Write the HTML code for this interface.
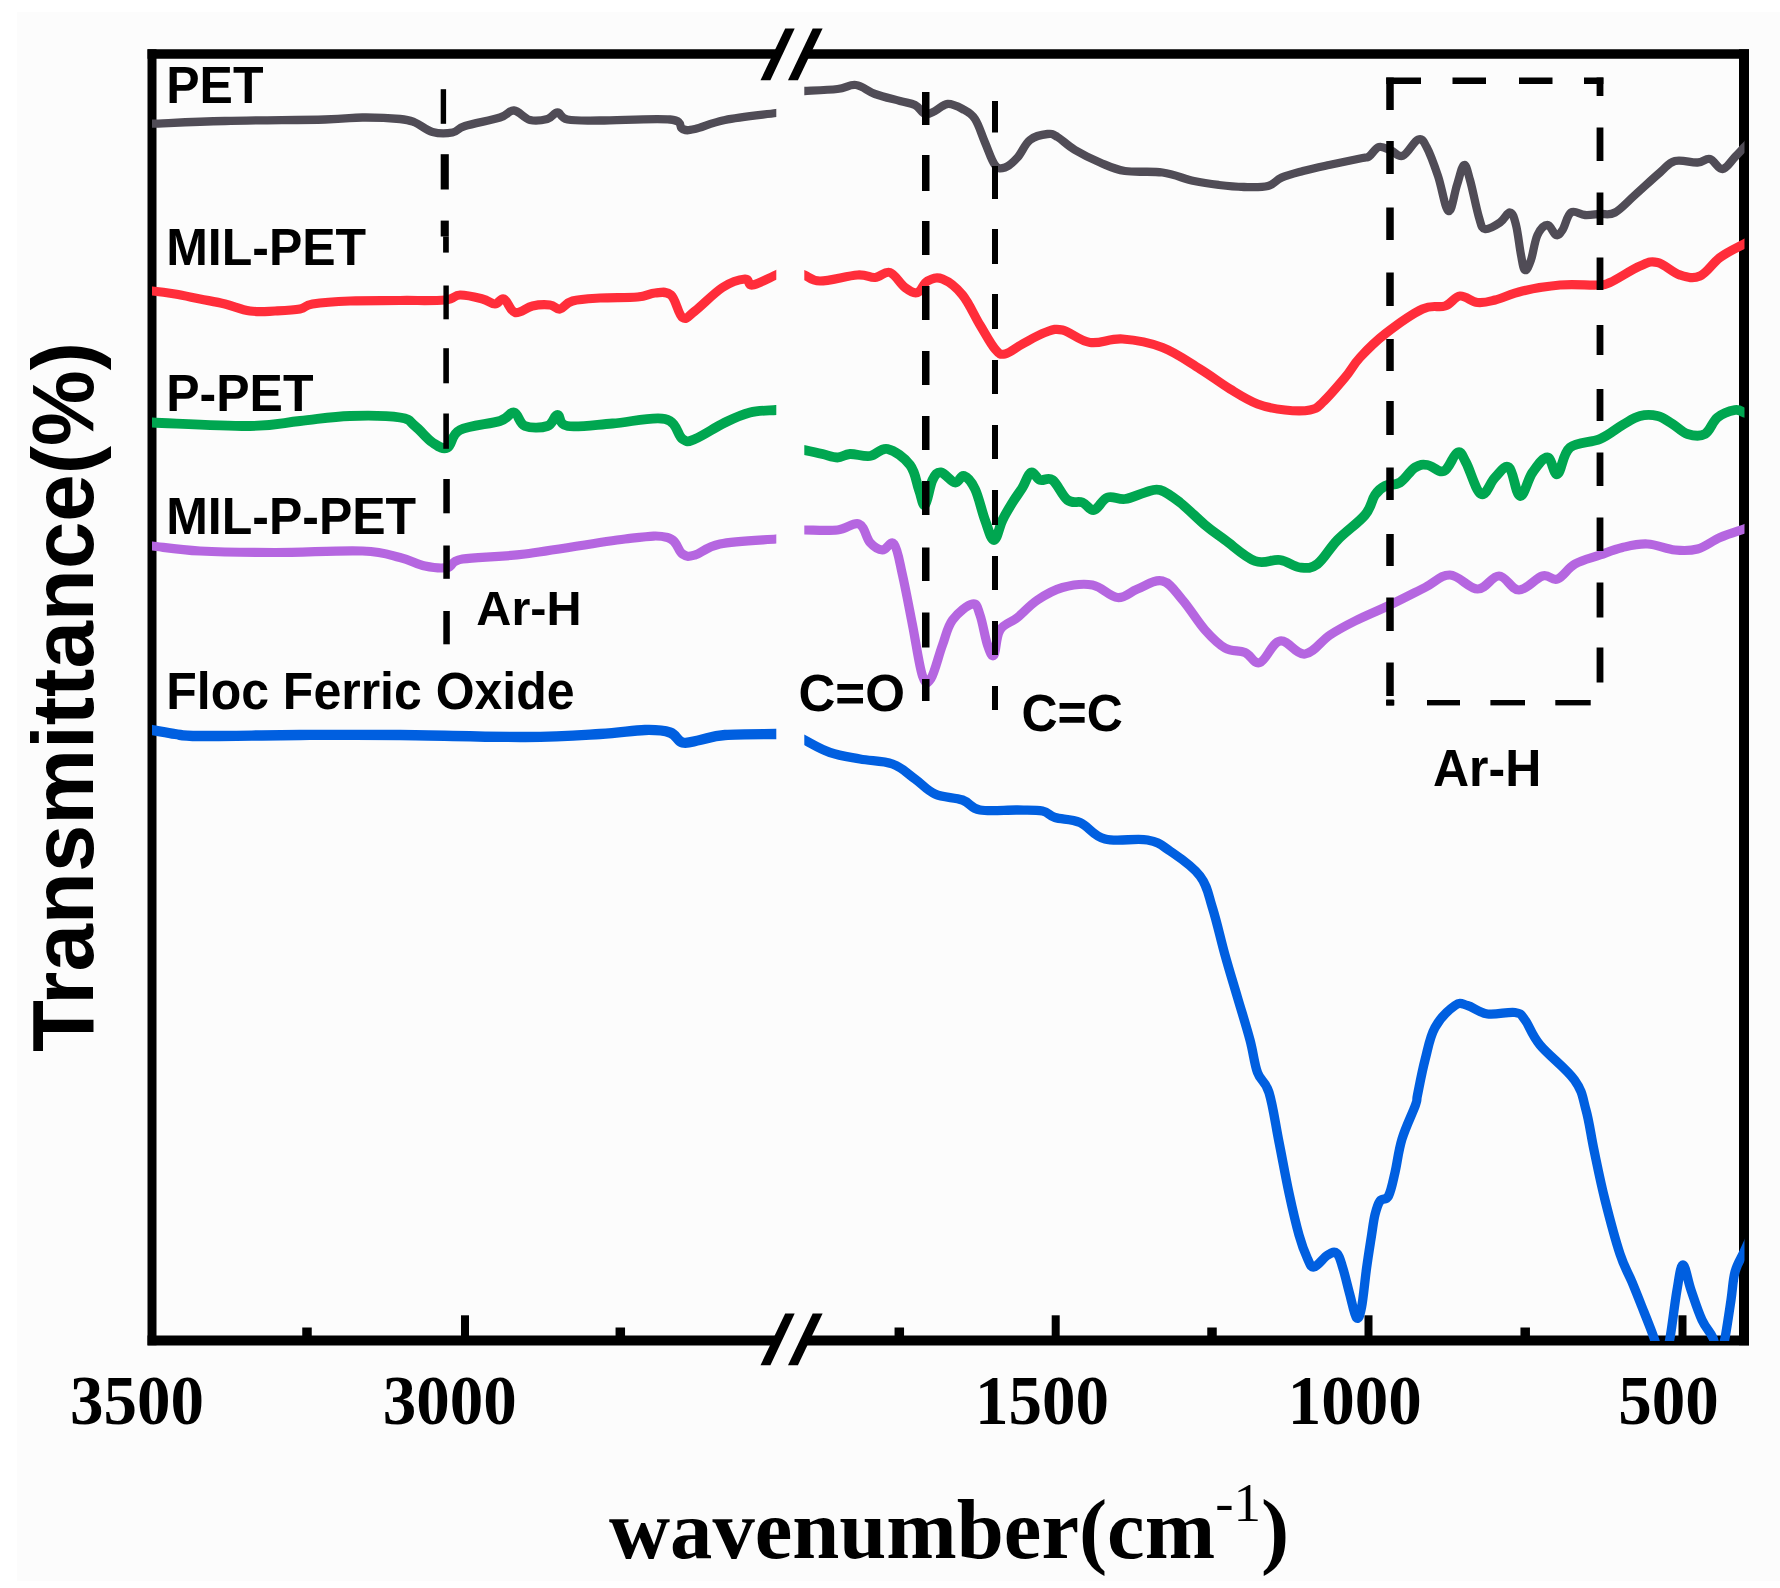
<!DOCTYPE html>
<html><head><meta charset="utf-8"><title>FTIR spectra</title>
<style>
html,body{margin:0;padding:0;background:#fff;}
svg{display:block}
.sb{font-family:"Liberation Sans",Arial,sans-serif;font-weight:bold;fill:#000}
.tb{font-family:"Liberation Serif","Times New Roman",serif;font-weight:bold;fill:#000}
</style></head><body>
<svg width="1780" height="1588" viewBox="0 0 1780 1588">
<rect x="0" y="0" width="1780" height="1588" fill="#fff"/>
<rect x="17" y="12" width="1763" height="1569" fill="#fcfcfc"/>
<defs><clipPath id="cp1"><rect x="152" y="54" width="624.3" height="1287"/></clipPath><clipPath id="cp2"><rect x="804.3" y="54" width="940.2" height="1287"/></clipPath></defs>

<g stroke="#000" fill="none" stroke-linecap="butt">
<line x1="152" y1="49.2" x2="152" y2="1345.3" stroke-width="9"/>
<line x1="1744" y1="49.2" x2="1744" y2="1345.3" stroke-width="10"/>
<line x1="147.5" y1="54" x2="777.5" y2="54" stroke-width="9.6"/>
<line x1="805" y1="54" x2="1749" y2="54" stroke-width="9.6"/>
<line x1="147.5" y1="1340.5" x2="777.3" y2="1340.5" stroke-width="10.2"/>
<line x1="805" y1="1340.5" x2="1749" y2="1340.5" stroke-width="10.2"/>
<polygon fill="#000" stroke="none" points="785.2,28.6 794.7,28.6 770.4,80.2 760.5,80.2"/>
<polygon fill="#000" stroke="none" points="812.7,28.6 822.6,28.6 797.9,80.2 788,80.2"/>
<polygon fill="#000" stroke="none" points="785.2,1313.6 794.7,1313.6 770.4,1365.2 760.5,1365.2"/>
<polygon fill="#000" stroke="none" points="812.7,1313.6 822.6,1313.6 797.9,1365.2 788,1365.2"/>
<line x1="465" y1="1315.3" x2="465" y2="1337" stroke-width="8"/>
<line x1="1055.7" y1="1315.3" x2="1055.7" y2="1337" stroke-width="8"/>
<line x1="1368.5" y1="1315.3" x2="1368.5" y2="1337" stroke-width="8"/>
<line x1="1682.5" y1="1315.3" x2="1682.5" y2="1337" stroke-width="8"/>
<line x1="307" y1="1327.5" x2="307" y2="1337" stroke-width="9.5"/>
<line x1="620.3" y1="1327.5" x2="620.3" y2="1337" stroke-width="9.5"/>
<line x1="899.3" y1="1327.5" x2="899.3" y2="1337" stroke-width="9.5"/>
<line x1="1212" y1="1327.5" x2="1212" y2="1337" stroke-width="9.5"/>
<line x1="1525.2" y1="1327.5" x2="1525.2" y2="1337" stroke-width="9.5"/>
</g>
<g fill="none" stroke-linejoin="round" stroke-linecap="butt">
<path d="M146.0,123.7C147.1,123.7 137.8,124.2 152.0,123.7C166.2,123.2 193.9,121.8 225.0,121.0C256.1,120.2 300.2,120.1 325.0,119.5C349.8,118.9 349.0,117.6 362.5,117.5C376.0,117.4 390.6,118.1 400.0,119.0C409.4,119.9 409.1,120.2 415.0,122.5C420.9,124.8 425.8,130.2 432.5,132.0C439.2,133.8 446.6,133.6 452.5,132.5C458.4,131.4 456.4,128.7 465.0,126.0C473.6,123.3 491.2,120.3 500.0,117.5C508.8,114.7 508.6,110.0 514.0,110.5C519.4,111.0 524.0,118.5 530.0,120.0C536.0,121.5 542.5,120.3 547.5,119.0C552.5,117.7 553.9,112.4 557.5,112.5C561.1,112.6 559.9,118.1 567.5,119.5C575.1,120.9 581.5,120.5 600.0,120.5C618.5,120.5 655.1,118.0 670.0,119.5C684.9,121.0 678.0,127.3 682.5,129.0C687.0,130.7 687.4,130.6 695.0,129.0C702.6,127.4 710.4,122.9 725.0,120.0C739.6,117.1 765.4,114.5 776.0,113.0C786.6,111.5 782.6,112.1 784.0,111.9" stroke="#504c56" stroke-width="8.3" clip-path="url(#cp1)"/>
<path d="M796.5,91.5C797.9,91.4 797.1,91.4 804.5,91.0C811.9,90.6 828.2,90.1 837.5,89.0C846.8,87.9 849.2,84.1 856.0,85.0C862.8,85.9 867.1,91.1 875.0,94.0C882.9,96.9 892.8,99.0 900.0,101.0C907.2,103.0 910.5,102.7 915.0,105.0C919.5,107.3 921.4,112.9 925.0,114.0C928.6,115.1 931.0,112.8 935.0,111.0C939.0,109.2 942.5,104.4 947.5,104.0C952.5,103.6 957.5,106.3 962.5,109.0C967.5,111.7 971.0,113.0 975.0,119.0C979.0,125.0 981.4,134.2 985.0,142.5C988.6,150.8 991.4,160.5 995.0,165.0C998.6,169.5 1001.0,168.8 1005.0,167.5C1009.0,166.2 1013.0,162.4 1017.5,157.5C1022.0,152.6 1024.6,144.2 1030.0,140.0C1035.4,135.8 1042.5,134.5 1047.5,134.0C1052.5,133.5 1052.5,134.1 1057.5,137.0C1062.5,139.9 1067.3,145.4 1075.0,150.0C1082.7,154.6 1091.0,158.7 1100.0,162.5C1109.0,166.3 1113.8,169.2 1125.0,171.0C1136.2,172.8 1150.1,170.7 1162.5,172.5C1174.9,174.3 1183.8,178.8 1194.0,181.0C1204.2,183.2 1210.0,183.9 1219.0,185.0C1228.0,186.1 1235.2,186.8 1244.0,187.0C1252.8,187.2 1261.2,187.7 1268.0,186.0C1274.8,184.3 1275.2,180.3 1281.5,177.6C1287.8,174.9 1294.5,173.3 1303.0,171.0C1311.5,168.7 1318.3,167.3 1329.0,165.0C1339.7,162.7 1355.3,159.5 1362.5,158.0C1369.7,156.5 1366.0,158.5 1369.0,156.5C1372.0,154.5 1375.0,148.1 1379.0,147.0C1383.0,145.9 1386.7,148.9 1391.0,150.5C1395.3,152.1 1398.1,157.7 1403.0,155.7C1407.9,153.7 1413.8,141.2 1418.0,139.6C1422.2,138.0 1423.0,140.4 1426.6,147.0C1430.2,153.6 1434.1,164.5 1438.0,176.0C1441.9,187.5 1445.1,209.4 1448.5,211.0C1451.9,212.6 1454.2,193.3 1457.0,185.0C1459.8,176.7 1461.7,165.9 1464.0,165.0C1466.3,164.1 1467.3,170.6 1470.0,180.0C1472.7,189.4 1476.3,208.7 1479.0,217.5C1481.7,226.3 1481.2,228.1 1485.0,229.0C1488.8,229.9 1495.5,225.5 1500.0,222.5C1504.5,219.5 1507.1,212.1 1510.0,212.5C1512.9,212.9 1514.0,217.3 1516.0,225.0C1518.0,232.7 1519.4,246.9 1521.0,255.0C1522.6,263.1 1523.2,269.1 1525.0,270.0C1526.8,270.9 1528.8,266.3 1531.0,260.0C1533.2,253.7 1534.5,241.3 1537.5,235.0C1540.5,228.7 1544.2,225.0 1547.5,225.0C1550.8,225.0 1553.3,234.1 1556.0,235.0C1558.7,235.9 1559.8,234.1 1562.5,230.0C1565.2,225.9 1567.0,215.2 1571.0,212.5C1575.0,209.8 1579.8,214.7 1585.0,215.0C1590.2,215.3 1594.6,214.4 1600.0,214.0C1605.4,213.6 1608.7,215.9 1615.0,212.5C1621.3,209.1 1626.9,202.2 1635.0,195.0C1643.1,187.8 1652.8,178.6 1660.0,172.5C1667.2,166.4 1668.2,162.8 1675.0,161.0C1681.8,159.2 1691.2,162.9 1697.5,162.5C1703.8,162.1 1705.5,157.8 1710.0,159.0C1714.5,160.2 1718.0,169.4 1722.5,169.0C1727.0,168.6 1731.1,160.9 1735.0,157.0C1738.9,153.1 1741.3,150.3 1744.0,147.5C1746.7,144.7 1748.9,142.3 1750.0,141.2" stroke="#504c56" stroke-width="8.3" clip-path="url(#cp2)"/>
<path d="M146.0,291.0C147.1,291.0 146.8,290.5 152.0,291.0C157.2,291.5 166.4,292.6 175.0,294.0C183.6,295.4 191.0,297.2 200.0,299.0C209.0,300.8 216.0,301.8 225.0,304.0C234.0,306.2 241.0,309.7 250.0,311.0C259.0,312.3 266.0,311.4 275.0,311.0C284.0,310.6 293.2,310.3 300.0,309.0C306.8,307.7 303.5,305.4 312.5,304.0C321.5,302.6 334.2,301.6 350.0,301.0C365.8,300.4 382.9,300.7 400.0,300.5C417.1,300.3 434.2,301.0 445.0,300.0C455.8,299.0 453.2,295.2 460.0,295.0C466.8,294.8 476.2,297.4 482.5,299.0C488.8,300.6 491.1,304.0 495.0,304.0C498.9,304.0 500.4,297.5 504.0,299.0C507.6,300.5 509.9,311.2 515.0,312.5C520.1,313.8 526.2,307.4 532.5,306.0C538.8,304.6 545.0,304.5 550.0,305.0C555.0,305.5 556.0,309.7 560.0,309.0C564.0,308.3 565.3,303.0 572.5,301.0C579.7,299.0 588.3,298.7 600.0,298.0C611.7,297.3 627.6,297.9 637.5,297.0C647.4,296.1 649.0,293.4 655.0,293.0C661.0,292.6 666.0,290.6 671.0,295.0C676.0,299.4 678.2,314.6 682.5,317.5C686.8,320.4 687.8,316.4 695.0,311.0C702.2,305.6 713.5,293.3 722.5,287.5C731.5,281.7 739.6,279.4 745.0,279.0C750.4,278.6 746.9,285.7 752.5,285.0C758.1,284.3 770.3,277.4 776.0,275.0C781.7,272.6 782.6,272.2 784.0,271.6" stroke="#ff2d3a" stroke-width="9.2" clip-path="url(#cp1)"/>
<path d="M796.5,271.9C797.9,272.5 800.3,273.4 804.5,275.0C808.7,276.6 810.5,281.0 820.0,281.0C829.5,281.0 847.6,275.6 857.5,275.0C867.4,274.4 869.1,277.9 875.0,277.5C880.9,277.1 884.6,270.7 890.0,272.5C895.4,274.3 900.0,283.9 905.0,287.5C910.0,291.1 913.5,293.7 917.5,292.5C921.5,291.3 923.0,283.4 927.5,281.0C932.0,278.6 936.2,276.5 942.5,279.0C948.8,281.5 955.8,286.7 962.5,295.0C969.2,303.3 974.1,315.3 980.0,325.0C985.9,334.7 990.5,343.8 995.0,349.0C999.5,354.2 1000.0,354.9 1005.0,354.0C1010.0,353.1 1015.3,347.9 1022.5,344.0C1029.7,340.1 1037.8,335.0 1045.0,332.5C1052.2,330.0 1054.4,328.2 1062.5,330.0C1070.6,331.8 1079.2,340.9 1090.0,342.5C1100.8,344.1 1109.5,338.1 1122.5,339.0C1135.5,339.9 1148.5,342.1 1162.5,347.5C1176.5,352.9 1187.8,361.5 1200.0,369.0C1212.2,376.5 1219.7,382.7 1230.0,389.0C1240.3,395.3 1247.6,400.2 1257.5,404.0C1267.4,407.8 1275.5,408.9 1285.0,410.0C1294.5,411.1 1303.2,411.4 1310.0,410.0C1316.8,408.6 1316.2,408.4 1322.5,402.5C1328.8,396.6 1338.2,385.6 1345.0,377.5C1351.8,369.4 1352.8,365.3 1360.0,357.5C1367.2,349.7 1373.8,342.7 1385.0,334.0C1396.2,325.3 1411.7,314.0 1422.5,309.0C1433.3,304.0 1438.2,308.3 1445.0,306.0C1451.8,303.7 1454.2,296.6 1460.0,296.0C1465.8,295.4 1471.2,301.8 1477.5,302.5C1483.8,303.2 1486.9,302.1 1495.0,300.0C1503.1,297.9 1510.8,293.7 1522.5,291.0C1534.2,288.3 1546.5,286.1 1560.0,285.0C1573.5,283.9 1588.5,285.4 1597.5,285.0C1606.5,284.6 1602.3,285.9 1610.0,282.5C1617.7,279.1 1631.5,269.6 1640.0,266.0C1648.5,262.4 1650.3,260.9 1657.5,262.5C1664.7,264.1 1672.3,272.6 1680.0,275.0C1687.7,277.4 1692.8,279.1 1700.0,276.0C1707.2,272.9 1712.1,263.3 1720.0,257.5C1727.9,251.7 1738.6,247.0 1744.0,244.0C1749.4,241.0 1748.9,241.2 1750.0,240.6" stroke="#ff2d3a" stroke-width="9.2" clip-path="url(#cp2)"/>
<path d="M146.0,422.5C147.1,422.5 133.3,421.9 152.0,422.5C170.7,423.1 223.4,426.3 250.0,426.0C276.6,425.7 282.0,422.8 300.0,421.0C318.0,419.2 332.0,416.6 350.0,416.0C368.0,415.4 388.3,415.7 400.0,417.5C411.7,419.3 409.1,421.5 415.0,426.0C420.9,430.5 426.6,438.6 432.5,442.5C438.4,446.4 442.6,449.8 447.5,447.5C452.4,445.2 450.6,434.8 460.0,430.0C469.4,425.2 490.3,424.1 500.0,421.0C509.7,417.9 509.5,411.6 514.0,412.5C518.5,413.4 519.0,423.6 525.0,426.0C531.0,428.4 541.6,428.0 547.5,426.0C553.4,424.0 553.9,415.0 557.5,415.0C561.1,415.0 557.6,424.5 567.5,426.0C577.4,427.5 595.0,424.8 612.5,423.5C630.0,422.2 652.4,416.2 665.0,419.0C677.6,421.8 677.1,435.4 682.5,439.0C687.9,442.6 687.4,442.0 695.0,439.0C702.6,436.0 715.1,427.3 725.0,422.5C734.9,417.7 740.8,414.8 750.0,412.5C759.2,410.2 769.9,410.6 776.0,410.0C782.1,409.4 782.6,409.4 784.0,409.2" stroke="#00a650" stroke-width="9.8" clip-path="url(#cp1)"/>
<path d="M796.5,448.2C797.9,448.5 799.8,449.0 804.5,450.0C809.2,451.0 816.6,452.6 822.5,454.0C828.4,455.4 832.5,457.5 837.5,457.5C842.5,457.5 844.1,454.3 850.0,454.0C855.9,453.7 863.2,456.9 870.0,456.0C876.8,455.1 880.3,447.4 887.5,449.0C894.7,450.6 904.3,457.6 910.0,465.0C915.7,472.4 916.3,482.8 919.0,490.0C921.7,497.2 922.6,506.8 925.0,505.0C927.4,503.2 929.6,485.9 932.5,480.0C935.4,474.1 937.0,472.1 941.0,472.5C945.0,472.9 950.9,481.9 955.0,482.5C959.1,483.1 960.4,474.8 964.0,476.0C967.6,477.2 971.2,481.1 975.0,489.0C978.8,496.9 981.6,510.8 985.0,520.0C988.4,529.2 990.9,540.0 994.0,540.0C997.1,540.0 999.2,526.8 1002.5,520.0C1005.8,513.2 1008.9,508.4 1012.5,502.5C1016.1,496.6 1019.2,492.9 1022.5,487.5C1025.8,482.1 1027.8,473.9 1031.0,472.5C1034.2,471.1 1036.1,478.6 1040.0,480.0C1043.9,481.4 1047.5,476.4 1052.5,480.0C1057.5,483.6 1062.1,495.9 1067.5,500.0C1072.9,504.1 1077.7,500.7 1082.5,502.5C1087.3,504.3 1089.5,510.9 1094.0,510.0C1098.5,509.1 1101.9,499.5 1107.5,497.5C1113.1,495.5 1118.2,499.9 1125.0,499.0C1131.8,498.1 1138.7,494.1 1145.0,492.5C1151.3,490.9 1153.7,488.2 1160.0,490.0C1166.3,491.8 1171.9,496.2 1180.0,502.5C1188.1,508.8 1196.9,518.2 1205.0,525.0C1213.1,531.8 1216.0,533.5 1225.0,540.0C1234.0,546.5 1245.1,557.4 1255.0,561.0C1264.9,564.6 1271.9,558.8 1280.0,560.0C1288.1,561.2 1293.2,566.8 1300.0,567.5C1306.8,568.2 1310.8,569.0 1317.5,564.0C1324.2,559.0 1329.0,548.8 1337.5,540.0C1346.0,531.2 1358.2,523.1 1365.0,515.0C1371.8,506.9 1371.4,500.2 1375.0,495.0C1378.6,489.8 1380.5,488.2 1385.0,486.0C1389.5,483.8 1394.6,485.8 1400.0,482.5C1405.4,479.2 1410.0,470.6 1415.0,467.5C1420.0,464.4 1422.3,464.4 1427.5,465.0C1432.7,465.6 1438.6,473.2 1444.0,471.0C1449.4,468.8 1453.5,454.0 1457.5,452.5C1461.5,451.0 1461.8,455.0 1466.0,462.5C1470.2,470.0 1475.8,491.3 1481.0,494.0C1486.2,496.7 1490.0,482.3 1495.0,477.5C1500.0,472.7 1504.5,464.2 1509.0,467.5C1513.5,470.8 1515.8,495.1 1520.0,496.0C1524.2,496.9 1527.5,479.4 1532.5,472.5C1537.5,465.6 1543.0,457.2 1547.5,457.5C1552.0,457.8 1553.5,475.8 1557.5,474.0C1561.5,472.2 1562.3,453.8 1570.0,447.5C1577.7,441.2 1590.5,443.1 1600.0,439.0C1609.5,434.9 1615.3,429.1 1622.5,425.0C1629.7,420.9 1633.7,417.6 1640.0,416.0C1646.3,414.4 1651.7,414.6 1657.5,416.0C1663.3,417.4 1667.1,420.8 1672.5,424.0C1677.9,427.2 1681.7,432.2 1687.5,434.0C1693.3,435.8 1699.6,437.0 1705.0,434.0C1710.4,431.0 1712.1,421.8 1717.5,417.5C1722.9,413.2 1730.2,410.9 1735.0,410.0C1739.8,409.1 1741.3,411.8 1744.0,412.5C1746.7,413.2 1748.9,413.9 1750.0,414.2" stroke="#00a650" stroke-width="9.8" clip-path="url(#cp2)"/>
<path d="M146.0,546.0C147.1,546.0 142.3,545.1 152.0,546.0C161.7,546.9 177.9,549.8 200.0,551.0C222.1,552.2 245.8,552.5 275.0,552.5C304.2,552.5 340.0,550.1 362.5,551.0C385.0,551.9 388.8,554.8 400.0,557.5C411.2,560.2 416.4,564.2 425.0,566.0C433.6,567.8 440.8,568.8 447.5,567.5C454.2,566.2 448.6,561.4 462.5,559.0C476.4,556.6 495.8,557.6 525.0,554.0C554.2,550.4 599.4,542.0 625.0,539.0C650.6,536.0 657.1,534.8 667.5,537.5C677.9,540.2 677.5,550.9 682.5,554.0C687.5,557.1 688.2,556.8 695.0,555.0C701.8,553.2 705.4,546.9 720.0,544.0C734.6,541.1 764.5,540.0 776.0,539.0C787.5,538.0 782.6,538.4 784.0,538.3" stroke="#b566e0" stroke-width="9.2" clip-path="url(#cp1)"/>
<path d="M796.5,530.0C797.9,530.0 797.1,530.0 804.5,530.0C811.9,530.0 827.7,531.1 837.5,530.0C847.3,528.9 853.1,521.8 859.0,524.0C864.9,526.2 865.8,537.8 870.0,542.5C874.2,547.2 878.2,549.7 882.5,550.0C886.8,550.3 890.4,539.5 894.0,544.0C897.6,548.5 899.2,560.4 902.5,575.0C905.8,589.6 908.9,606.8 912.5,625.0C916.1,643.2 919.2,666.4 922.5,676.0C925.8,685.6 927.4,684.1 931.0,678.5C934.6,672.9 938.6,655.5 942.5,645.0C946.4,634.5 947.1,627.4 952.5,620.0C957.9,612.6 967.5,604.9 972.5,604.0C977.5,603.1 977.3,607.6 980.0,615.0C982.7,622.4 985.0,637.8 987.5,645.0C990.0,652.2 991.8,657.7 994.0,655.0C996.2,652.3 995.8,636.8 1000.0,630.0C1004.2,623.2 1010.8,622.9 1017.5,617.5C1024.2,612.1 1029.4,605.4 1037.5,600.0C1045.6,594.6 1052.6,590.2 1062.5,587.5C1072.4,584.8 1082.6,583.2 1092.5,585.0C1102.4,586.8 1109.4,596.8 1117.5,597.5C1125.6,598.2 1129.4,592.0 1137.5,589.0C1145.6,586.0 1154.4,579.0 1162.5,581.0C1170.6,583.0 1174.8,591.2 1182.5,600.0C1190.2,608.8 1197.3,621.4 1205.0,630.0C1212.7,638.6 1217.8,644.0 1225.0,648.0C1232.2,652.0 1238.7,649.9 1245.0,652.5C1251.3,655.1 1253.7,664.6 1260.0,662.5C1266.3,660.4 1271.9,642.5 1280.0,641.0C1288.1,639.5 1296.0,655.1 1305.0,654.0C1314.0,652.9 1321.0,640.9 1330.0,635.0C1339.0,629.1 1344.2,626.4 1355.0,621.0C1365.8,615.6 1377.4,611.0 1390.0,605.0C1402.6,599.0 1414.2,592.9 1425.0,587.5C1435.8,582.1 1440.5,574.7 1450.0,575.0C1459.5,575.3 1468.7,588.8 1477.5,589.0C1486.3,589.2 1491.5,575.8 1499.0,576.0C1506.5,576.2 1511.2,590.0 1519.0,590.0C1526.8,590.0 1535.6,578.0 1542.5,576.0C1549.4,574.0 1551.7,581.2 1557.5,579.0C1563.3,576.8 1567.3,568.3 1575.0,564.0C1582.7,559.7 1591.5,558.0 1600.0,555.0C1608.5,552.0 1614.0,549.5 1622.5,547.5C1631.0,545.5 1638.0,543.5 1647.5,544.0C1657.0,544.5 1666.0,549.1 1675.0,550.0C1684.0,550.9 1689.4,551.2 1697.5,549.0C1705.6,546.8 1711.6,541.1 1720.0,537.5C1728.4,533.9 1738.6,530.9 1744.0,529.0C1749.4,527.1 1748.9,527.3 1750.0,526.9" stroke="#b566e0" stroke-width="9.2" clip-path="url(#cp2)"/>
<path d="M146.0,730.0C147.1,730.0 146.8,729.3 152.0,730.0C157.2,730.7 166.4,732.9 175.0,734.0C183.6,735.1 177.5,735.8 200.0,736.0C222.5,736.2 264.0,735.2 300.0,735.0C336.0,734.8 359.5,734.6 400.0,735.0C440.5,735.4 489.0,737.2 525.0,737.0C561.0,736.8 578.4,735.3 600.0,734.0C621.6,732.7 632.4,730.3 645.0,730.0C657.6,729.7 663.2,730.2 670.0,732.5C676.8,734.8 677.1,741.1 682.5,742.5C687.9,743.9 692.4,741.4 700.0,740.0C707.6,738.6 711.3,736.1 725.0,735.0C738.7,733.9 765.4,734.2 776.0,734.0C786.6,733.8 782.6,733.9 784.0,733.8" stroke="#005fe0" stroke-width="10.3" clip-path="url(#cp1)"/>
<path d="M796.5,736.1C797.9,736.8 798.5,737.0 804.5,740.0C810.5,743.0 820.0,749.1 830.0,752.5C840.0,755.9 848.8,756.9 860.0,759.0C871.2,761.1 882.6,760.4 892.5,764.0C902.4,767.6 907.4,773.6 915.0,779.0C922.6,784.4 926.5,790.2 935.0,794.0C943.5,797.8 954.4,797.1 962.5,800.0C970.6,802.9 970.1,808.2 980.0,810.0C989.9,811.8 1006.2,809.8 1017.5,810.0C1028.8,810.2 1035.8,809.6 1042.5,811.0C1049.2,812.4 1048.2,815.4 1055.0,817.5C1061.8,819.6 1071.0,818.6 1080.0,822.5C1089.0,826.4 1092.8,835.9 1105.0,839.0C1117.2,842.1 1135.8,837.8 1147.5,840.0C1159.2,842.2 1160.5,844.5 1170.0,851.0C1179.5,857.5 1192.3,865.7 1200.0,876.0C1207.7,886.3 1208.0,893.8 1212.5,908.0C1217.0,922.2 1220.5,938.9 1225.0,955.0C1229.5,971.1 1233.0,982.2 1237.5,997.5C1242.0,1012.8 1246.4,1026.5 1250.0,1040.0C1253.6,1053.5 1254.1,1063.0 1257.5,1072.5C1260.9,1082.0 1265.1,1080.0 1269.0,1092.5C1272.9,1105.0 1275.4,1123.9 1279.0,1142.0C1282.6,1160.1 1285.4,1176.3 1289.0,1193.0C1292.6,1209.7 1295.7,1223.2 1299.0,1235.0C1302.3,1246.8 1304.8,1252.8 1307.5,1258.6C1310.2,1264.4 1310.4,1267.6 1314.0,1267.0C1317.6,1266.4 1323.6,1257.4 1327.7,1255.0C1331.8,1252.6 1334.2,1251.0 1337.0,1253.5C1339.8,1256.0 1340.7,1261.4 1343.0,1268.7C1345.3,1276.0 1347.3,1285.2 1349.7,1294.0C1352.1,1302.8 1354.3,1315.2 1356.4,1317.6C1358.5,1320.0 1359.7,1316.3 1361.5,1307.5C1363.3,1298.7 1364.7,1281.8 1366.5,1268.7C1368.3,1255.7 1370.1,1244.7 1371.6,1235.0C1373.1,1225.3 1373.5,1220.8 1375.0,1214.7C1376.5,1208.6 1377.6,1204.4 1380.0,1201.0C1382.4,1197.6 1385.8,1201.1 1388.5,1196.0C1391.2,1190.9 1392.6,1182.8 1395.0,1172.5C1397.4,1162.2 1398.3,1151.2 1402.0,1139.0C1405.7,1126.8 1412.7,1112.9 1415.5,1105.0C1418.3,1097.1 1415.8,1103.1 1417.5,1095.0C1419.2,1086.9 1421.8,1072.2 1425.0,1060.0C1428.2,1047.8 1429.6,1037.3 1435.0,1027.5C1440.4,1017.7 1449.2,1009.5 1455.0,1005.5C1460.8,1001.5 1461.7,1004.0 1467.5,1005.5C1473.3,1007.0 1479.0,1012.7 1487.5,1014.0C1496.0,1015.3 1508.2,1011.4 1515.0,1012.5C1521.8,1013.6 1520.5,1014.1 1525.0,1020.0C1529.5,1025.8 1531.1,1034.2 1540.0,1045.0C1548.9,1055.8 1566.2,1068.3 1574.5,1080.0C1582.8,1091.7 1582.5,1097.4 1586.0,1110.0C1589.5,1122.6 1590.6,1133.8 1594.0,1150.0C1597.4,1166.2 1600.3,1181.3 1605.0,1200.0C1609.7,1218.7 1615.1,1239.2 1620.0,1254.0C1624.9,1268.8 1627.7,1271.6 1632.0,1282.0C1636.3,1292.4 1640.0,1301.9 1644.0,1312.0C1648.0,1322.1 1651.1,1329.7 1654.0,1338.0C1656.9,1346.3 1658.0,1354.4 1660.0,1358.0C1662.0,1361.6 1663.2,1361.6 1665.0,1358.0C1666.8,1354.4 1667.8,1350.2 1670.0,1338.0C1672.2,1325.8 1674.7,1303.1 1677.0,1290.0C1679.3,1276.9 1680.5,1265.0 1683.0,1265.0C1685.5,1265.0 1687.6,1280.1 1691.0,1290.0C1694.4,1299.9 1698.0,1311.4 1702.0,1320.0C1706.0,1328.6 1710.5,1332.2 1713.0,1338.0C1715.5,1343.8 1714.6,1349.5 1716.0,1352.0C1717.4,1354.5 1719.4,1354.5 1721.0,1352.0C1722.6,1349.5 1723.2,1347.4 1725.0,1338.0C1726.8,1328.6 1729.2,1311.9 1731.0,1300.0C1732.8,1288.1 1732.7,1280.6 1735.0,1272.0C1737.3,1263.4 1741.3,1258.0 1744.0,1252.0C1746.7,1246.0 1748.9,1241.1 1750.0,1238.7" stroke="#005fe0" stroke-width="9.3" clip-path="url(#cp2)"/>
</g>
<g fill="#000">
<rect x="440.7" y="89.2" width="5.4" height="34.6"/><rect x="440.7" y="154.2" width="8.1" height="35.3"/><rect x="440.7" y="220.6" width="8.1" height="15.9"/><rect x="443.1" y="236.5" width="5.7" height="16.1"/><rect x="443.4" y="285.5" width="5.4" height="33.8"/><rect x="443.3" y="348.2" width="5.6" height="35.1"/><rect x="443.3" y="413.5" width="5.6" height="35.3"/><rect x="443.3" y="479" width="6.5" height="34.3"/><rect x="443.3" y="545.5" width="6.5" height="33.3"/><rect x="443.3" y="611" width="6.5" height="33.3"/>
<rect x="922" y="92" width="7.5" height="33"/><rect x="922" y="155" width="7.5" height="36"/><rect x="922" y="221" width="7.5" height="34"/><rect x="922" y="286" width="7.5" height="34"/><rect x="922" y="351" width="7.5" height="34"/><rect x="922" y="416" width="7.5" height="34"/><rect x="922" y="481" width="7.5" height="34"/><rect x="922" y="547.5" width="7.5" height="33.5"/><rect x="922" y="612.5" width="7.5" height="35"/><rect x="922" y="679" width="7.5" height="22"/>
<rect x="992" y="101" width="6" height="31.5"/><rect x="992" y="166" width="6" height="33"/><rect x="992" y="229" width="6" height="35"/><rect x="992" y="294" width="6" height="35"/><rect x="992" y="360" width="6" height="34"/><rect x="992" y="425" width="6" height="34"/><rect x="992" y="490" width="6" height="35"/><rect x="992" y="556" width="6" height="34"/><rect x="992" y="621" width="6" height="34"/><rect x="992" y="686" width="6" height="24"/>
<rect x="1386.25" y="77.5" width="7.5" height="32.5"/><rect x="1386.25" y="141" width="7.5" height="33"/><rect x="1386.25" y="207.5" width="7.5" height="32.5"/><rect x="1386.25" y="272.5" width="7.5" height="33.5"/><rect x="1386.25" y="339" width="7.5" height="32"/><rect x="1386.25" y="401" width="7.5" height="34"/><rect x="1386.25" y="467.5" width="7.5" height="32.5"/><rect x="1386.25" y="534" width="7.5" height="32"/><rect x="1386.25" y="597.5" width="7.5" height="33.5"/><rect x="1386.25" y="662.5" width="7.5" height="33.5"/><rect x="1386.25" y="699.5" width="7.5" height="6"/>
<rect x="1386.2" y="77.5" width="34.8" height="6.5"/><rect x="1452.5" y="77.5" width="33.5" height="6.5"/><rect x="1519" y="77.5" width="33.5" height="6.5"/><rect x="1584" y="77.5" width="19.4" height="6.5"/>
<rect x="1596.6" y="77.5" width="6.8" height="18.5"/><rect x="1596.6" y="127.5" width="6.8" height="33.5"/><rect x="1596.6" y="192.5" width="6.8" height="32.5"/><rect x="1596.6" y="257.5" width="6.8" height="32.5"/><rect x="1596.6" y="325" width="6.8" height="30"/><rect x="1596.6" y="389" width="6.8" height="32"/><rect x="1596.6" y="452.5" width="6.8" height="33.5"/><rect x="1596.6" y="517.5" width="6.8" height="33.5"/><rect x="1596.6" y="582.5" width="6.8" height="35"/><rect x="1596.6" y="647.5" width="6.8" height="35"/>
<rect x="1386.2" y="700" width="8.1" height="5.4"/><rect x="1427" y="700" width="33" height="5.4"/><rect x="1490.4" y="700" width="34.6" height="5.4"/><rect x="1555.3" y="700" width="35.4" height="5.4"/>
</g>
<text class="sb" transform="translate(166.2,103) scale(1,1.04)" font-size="50">PET</text>
<text class="sb" transform="translate(166.2,265) scale(1,1.04)" font-size="50">MIL-PET</text>
<text class="sb" transform="translate(166.2,411) scale(1,1.04)" font-size="50">P-PET</text>
<text class="sb" transform="translate(166.2,534) scale(1,1.04)" font-size="50">MIL-P-PET</text>
<text class="sb" transform="translate(166.2,709) scale(1,1.04)" font-size="50">Floc Ferric Oxide</text>
<text class="sb" transform="translate(476.3,625.3) scale(1,1.0)" font-size="48.6">Ar-H</text>
<text class="sb" transform="translate(798.4,710.5) scale(1.022,1.04)" font-size="50">C=O</text>
<text class="sb" transform="translate(1021.5,730.5) scale(1,1.04)" font-size="50">C=C</text>
<text class="sb" transform="translate(1433,786) scale(1,1.04)" font-size="50">Ar-H</text>
<text class="tb" transform="translate(137,1424) scale(1,1.05)" font-size="67" text-anchor="middle">3500</text>
<text class="tb" transform="translate(449.7,1424) scale(1,1.05)" font-size="67" text-anchor="middle">3000</text>
<text class="tb" transform="translate(1041.9,1424) scale(1,1.05)" font-size="67" text-anchor="middle">1500</text>
<text class="tb" transform="translate(1354.8,1424) scale(1,1.05)" font-size="67" text-anchor="middle">1000</text>
<text class="tb" transform="translate(1668.4,1424) scale(1,1.05)" font-size="67" text-anchor="middle">500</text>
<text class="tb" x="609" y="1558" font-size="84.6">wavenumber(cm<tspan font-size="55" font-weight="normal" dy="-37">-1</tspan><tspan dy="37">)</tspan></text>
<text class="sb" font-size="85.2" transform="translate(93.3,1052) rotate(-90) scale(1,1.025)" x="0" y="0">Transmittance(%)</text>
</svg></body></html>
